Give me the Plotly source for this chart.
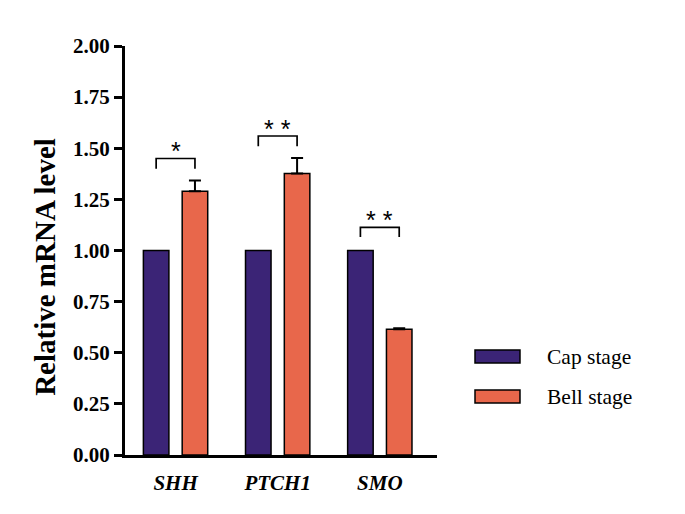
import plotly.graph_objects as go

genes = ["SHH", "PTCH1", "SMO"]
cap_values = [1.0, 1.0, 1.0]
bell_values = [1.29, 1.377, 0.615]
bell_errors = [0.052, 0.075, 0.005]
sig_labels = ["*", "**", "**"]
bracket_top = [1.45, 1.56, 1.113]
bracket_foot = [1.40, 1.51, 1.066]
series_names = ["Cap stage", "Bell stage"]
y_ticks = [0, 0.25, 0.5, 0.75, 1.0, 1.25, 1.5, 1.75, 2.0]
y_title = "Relative mRNA level"

CAP_COLOR = "#3B2476"
BELL_COLOR = "#E8674B"
SERIF = "Liberation Serif, Times New Roman, serif"

BAR_W = 0.25
CAP_OFF = -0.315
BELL_OFF = 0.065

fig = go.Figure()
fig.add_trace(go.Bar(
    x=genes, y=cap_values, name=series_names[0],
    width=BAR_W, offset=CAP_OFF,
    marker=dict(color=CAP_COLOR, line=dict(color="black", width=1.5)),
    showlegend=False,
))
fig.add_trace(go.Bar(
    x=genes, y=bell_values, name=series_names[1],
    width=BAR_W, offset=BELL_OFF,
    marker=dict(color=BELL_COLOR, line=dict(color="black", width=1.5)),
    error_y=dict(type="data", array=bell_errors, arrayminus=[0]*len(bell_errors),
                 symmetric=False, color="black", thickness=2, width=6),
    showlegend=False,
))

cap_center = CAP_OFF + BAR_W / 2
bell_center = BELL_OFF + BAR_W / 2
for i, g in enumerate(genes):
    x0 = i + cap_center
    x1 = i + bell_center
    fig.add_shape(type="path",
                  path=f"M {x0} {bracket_foot[i]} L {x0} {bracket_top[i]} L {x1} {bracket_top[i]} L {x1} {bracket_foot[i]}",
                  xref="x", yref="y", line=dict(color="black", width=1.7))
    fig.add_annotation(x=i + (cap_center + bell_center) / 2, y=bracket_top[i],
                       xref="x", yref="y", text=" ".join(sig_labels[i]), showarrow=False,
                       yanchor="bottom", yshift=-9,
                       font=dict(family="Liberation Sans, Arial", size=25, color="black"))

# custom legend
legend_rows = [(0.2567, 0.2249, CAP_COLOR), (0.1589, 0.1271, BELL_COLOR)]
for (ytop, ybot, col), name in zip(legend_rows, series_names):
    fig.add_shape(type="rect", xref="paper", yref="paper",
                  x0=1.1218, x1=1.266, y0=ybot, y1=ytop,
                  fillcolor=col, line=dict(color="black", width=1.5))
    fig.add_annotation(xref="paper", yref="paper", x=1.346, y=(ytop + ybot) / 2,
                       text=name, showarrow=False, xanchor="left", yanchor="middle",
                       font=dict(family=SERIF, size=21.5, color="black"))

# y-axis title (placed slightly below the axis centre, as in the original)
fig.add_annotation(xref="paper", yref="paper", x=-0.2564, y=0.46,
                   text=f"<b>{y_title}</b>", textangle=-90, showarrow=False,
                   xanchor="center", yanchor="middle",
                   font=dict(family=SERIF, size=29, color="black"))

# page body has an 8px margin: shrink the figure and shift the plot area by it
fig.update_layout(
    width=677, height=506,
    margin=dict(l=117, r=248, t=38, b=59),
    plot_bgcolor="white", paper_bgcolor="white",
    barmode="overlay",
    showlegend=False,
)
fig.update_xaxes(
    type="category", range=[-0.495, 2.56],
    tickvals=genes, ticktext=[f"<b><i>{g}</i></b>" for g in genes],
    tickfont=dict(family=SERIF, size=21, color="black"),
    ticklabelstandoff=7,
    showline=True, linecolor="black", linewidth=3,
    ticks="", showgrid=False, zeroline=False,
)
fig.update_yaxes(
    range=[0, 2.0], tickvals=y_ticks,
    ticktext=[f"<b>{v:.2f}</b>" for v in y_ticks],
    tickfont=dict(family=SERIF, size=21, color="black"),
    showline=True, linecolor="black", linewidth=3,
    ticks="outside", ticklen=8, tickwidth=3, tickcolor="black",
    showgrid=False, zeroline=False,
)

fig.write_html("out.html")
